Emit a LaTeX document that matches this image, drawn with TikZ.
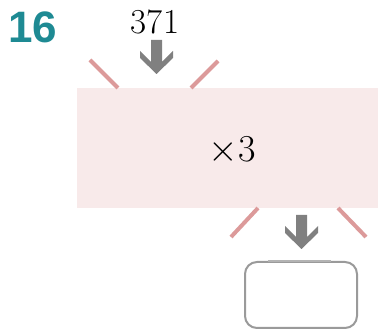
\documentclass[tikz,border=0pt]{standalone}
\usepackage{fix-cm}
\usepackage{fontspec}
\newfontfamily\numfont{Liberation Sans}
\definecolor{teal16}{HTML}{1E8A93}
\definecolor{boxpink}{HTML}{F8EAEA}
\definecolor{linepink}{HTML}{DC9A9A}
\definecolor{arrgray}{HTML}{808080}
\definecolor{boxgray}{HTML}{9A9A9A}
\tikzset{
  tick/.style={linepink, line width=4pt},
  blockarrow/.style={fill=arrgray, draw=none},
}
\newcommand{\chevarrow}[2]{%
  \fill[blockarrow] (#1-5.5,#2) -- (#1+5.5,#2) -- (#1+5.5,#2+22) -- (#1+16.5,#2+11)
   -- (#1+16.5,#2+18) -- (#1,#2+34) -- (#1-16.5,#2+18) -- (#1-16.5,#2+11)
   -- (#1-5.5,#2+22) -- cycle;}
\begin{document}
\begin{tikzpicture}[x=1pt,y=-1pt]
\useasboundingbox (0,0) rectangle (378,331);
\node[anchor=base west, inner sep=0, text=teal16, font=\numfont\bfseries\fontsize{44}{50}\selectfont] (num) at (8,43) {16};
\node[anchor=base, inner sep=0, font=\fontsize{35}{40}\selectfont] (in) at (155,34) {371};
\node[fill=boxpink, minimum width=301pt, minimum height=120pt, inner sep=0, anchor=north west] (box) at (77,88) {};
\node[anchor=base, inner sep=0, font=\fontsize{38}{44}\selectfont] (op) at (232,162) {$\times 3$};
\chevarrow{156.5}{40}
\chevarrow{301.5}{215}
\coordinate (ul1) at (90,60); \coordinate (ul2) at (118,88);
\coordinate (ur1) at (191,88); \coordinate (ur2) at (218,61);
\coordinate (ll1) at (258,208); \coordinate (ll2) at (231,237);
\coordinate (lr1) at (338,208); \coordinate (lr2) at (366,237);
\draw[tick] (ul1) -- (ul2);
\draw[tick] (ur1) -- (ur2);
\draw[tick] (ll1) -- (ll2);
\draw[tick] (lr1) -- (lr2);
\node[draw=boxgray, line width=2pt, rounded corners=12pt, minimum width=112pt, minimum height=66pt, inner sep=0, anchor=north west] (ans) at (244,261) {};
\draw[boxgray!75!white, line width=2pt] (268,261) -- (331,261);
\end{tikzpicture}
\end{document}
